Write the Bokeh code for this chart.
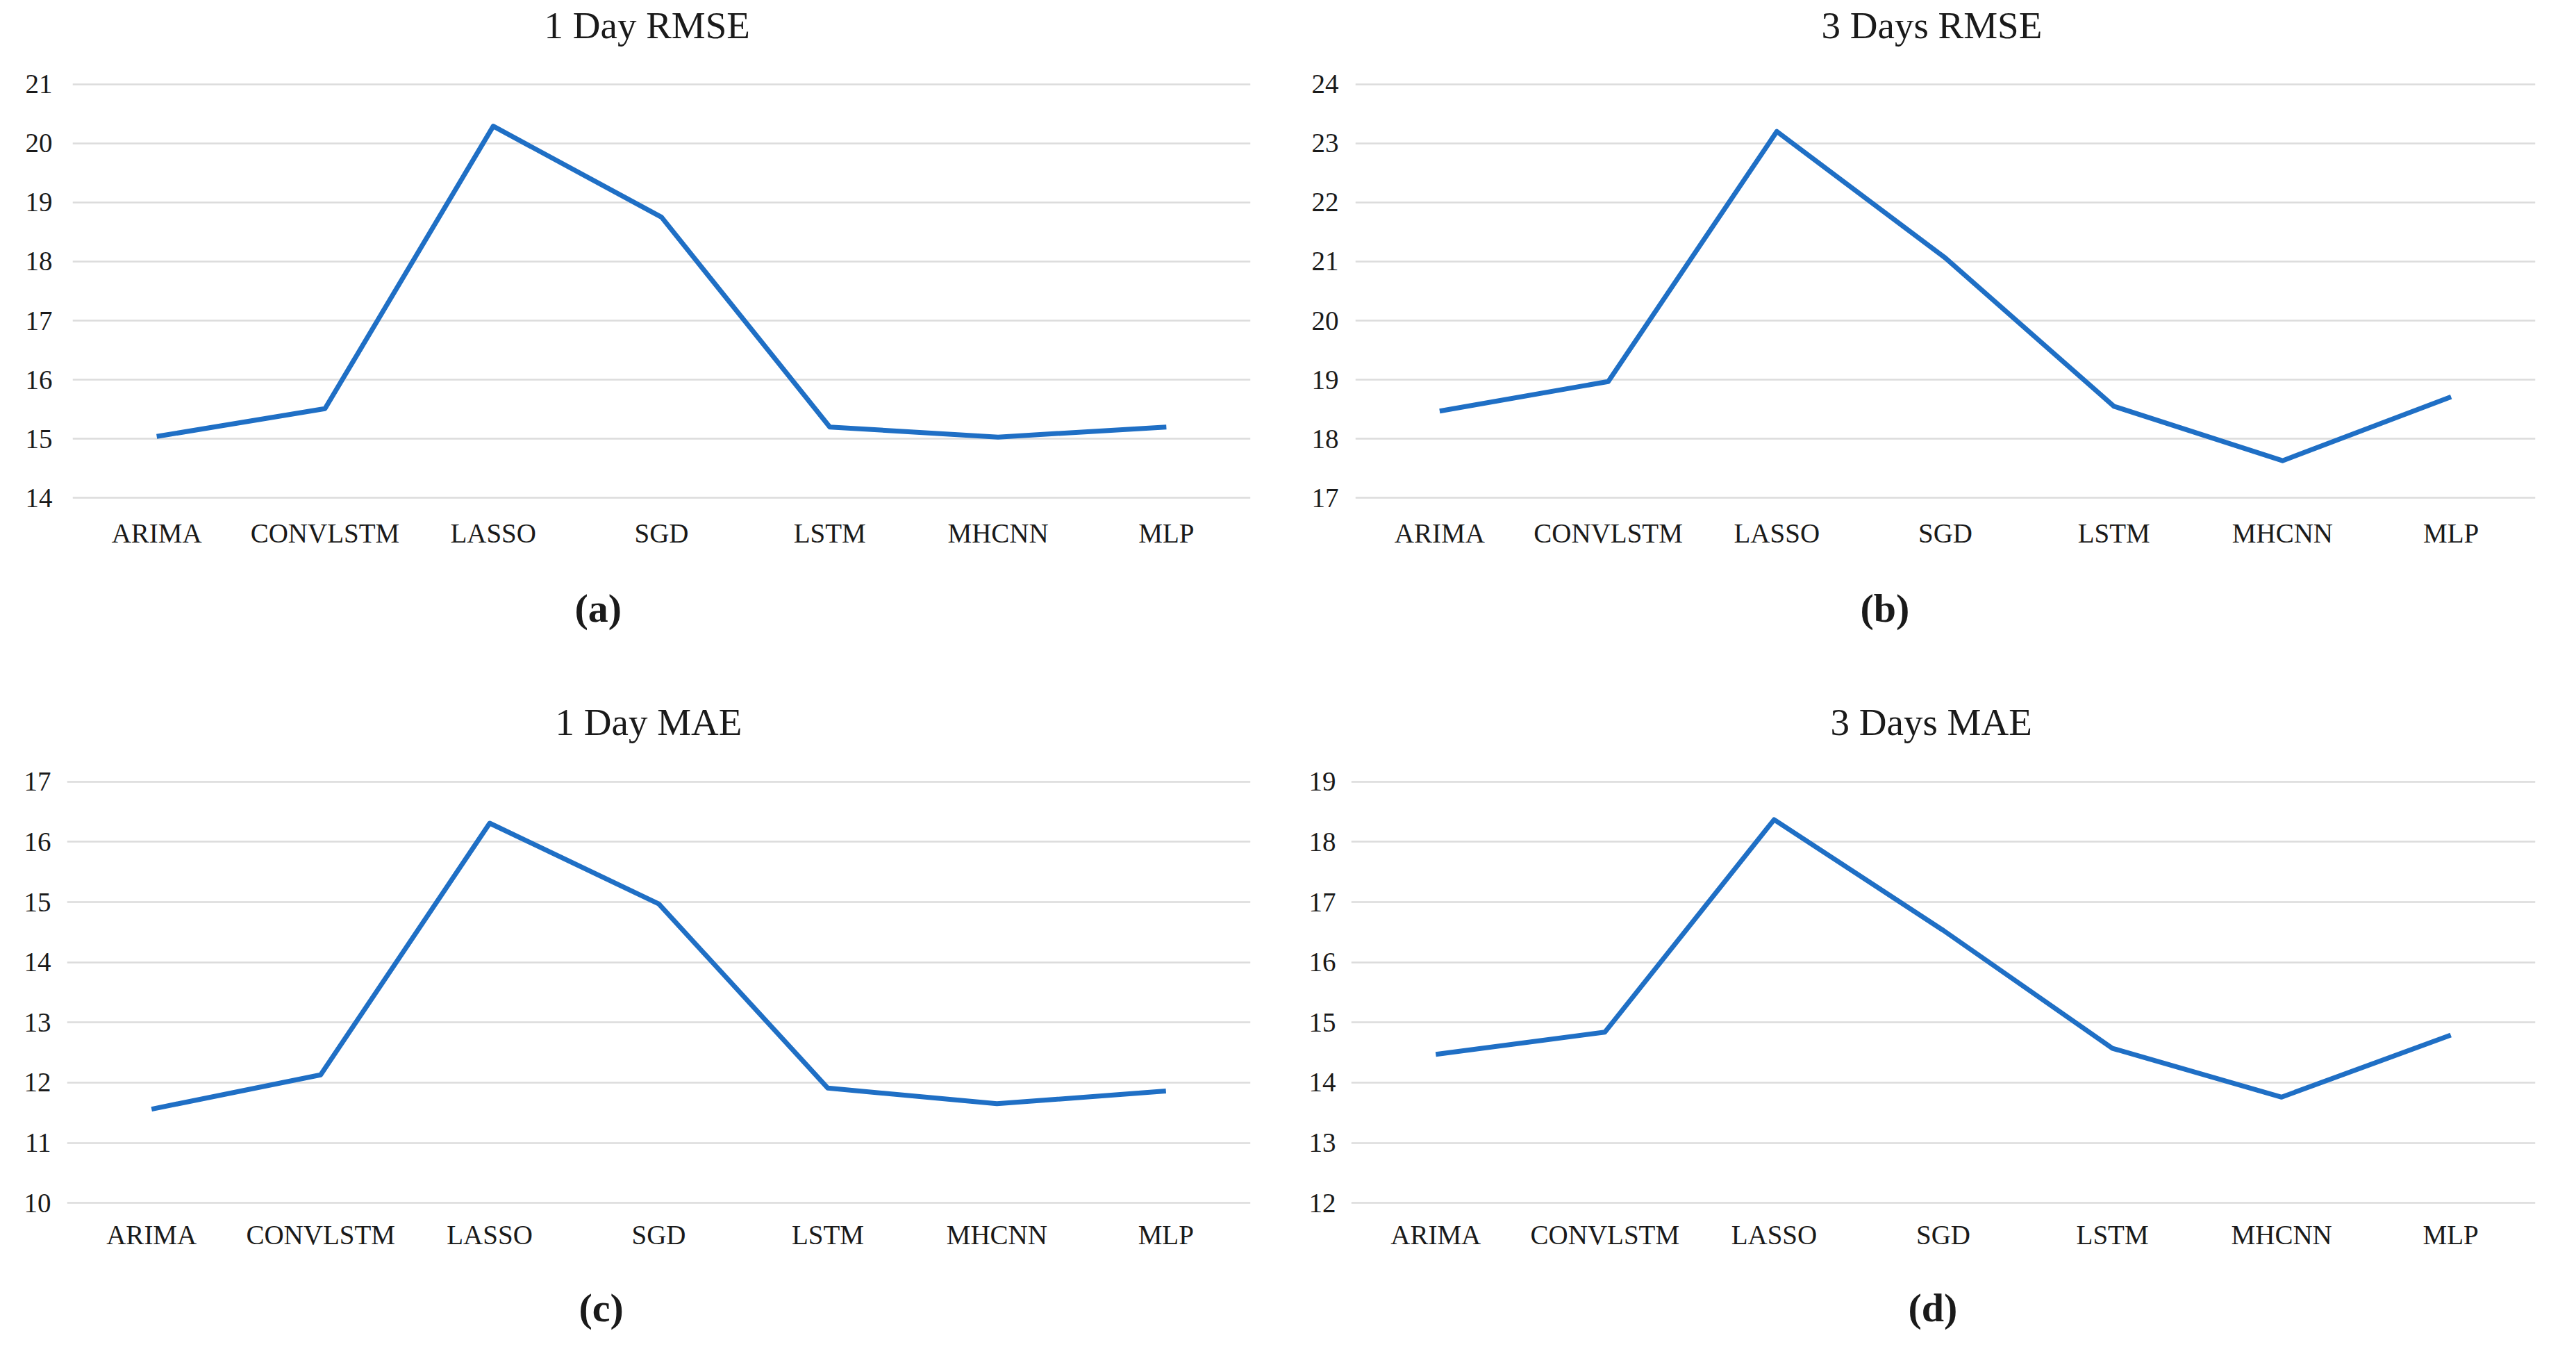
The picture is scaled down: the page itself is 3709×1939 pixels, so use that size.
from bokeh.plotting import figure
from bokeh.models import Title, FixedTicker, Range1d
from bokeh.layouts import column, row
from bokeh.embed import file_html
from bokeh.resources import INLINE

models = ["ARIMA", "CONVLSTM", "LASSO", "SGD", "LSTM", "MHCNN", "MLP"]
rmse_1day = [15.04, 15.51, 20.29, 18.75, 15.20, 15.03, 15.20]
rmse_3day = [18.47, 18.97, 23.20, 21.06, 18.55, 17.63, 18.71]
mae_1day = [11.56, 12.13, 16.31, 14.97, 11.91, 11.65, 11.86]
mae_3day = [14.47, 14.84, 18.37, 16.53, 14.57, 13.76, 14.79]

titles = ["1 Day RMSE", "3 Days RMSE", "1 Day MAE", "3 Days MAE"]
panel_tags = ["(a)", "(b)", "(c)", "(d)"]
y_limits = [(14, 21), (17, 24), (10, 17), (12, 19)]

FONT = "Liberation Serif"
LINE_COLOR = "#1F6FC5"
GRID_COLOR = "#DCDCDC"
TEXT_COLOR = "#1a1a1a"

# per panel: (width, height, border_left, border_right, border_top, border_bottom,
#  ylabel_standoff, xlabel_standoff, title_offset, tag_offset, top_gap, bottom_gap)
layouts = [
    (1846, 962, 104, 46, 119, 244, 29, 27, 679, 723, 50, 46),
    (1846, 962, 105, 42, 119, 244, 24, 27, 671, 727, 50, 46),
    (1846, 961, 96, 46, 161, 190, 23, 22, 703, 737, 51, 43),
    (1846, 961, 99, 42, 161, 190, 22, 22, 690, 802, 51, 43),
]


def spacer(size):
    return Title(text=".", text_font_size="2px", standoff=size, text_color="#ffffff")


series = [rmse_1day, rmse_3day, mae_1day, mae_3day]
figs = []
for vals, ttl, tag, (lo, hi), lay in zip(series, titles, panel_tags, y_limits, layouts):
    (w, h, bl, br, bt, bb, ysd, xsd, toff, tagoff, tgap, bgap) = lay
    p = figure(x_range=models, y_range=Range1d(lo - 0.02, hi + 0.02),
               width=w, height=h, output_backend="svg", toolbar_location=None,
               min_border_left=bl, min_border_right=br,
               min_border_top=bt, min_border_bottom=bb)
    p.add_layout(spacer(tgap), "above")
    p.add_layout(Title(text=ttl, align="left", offset=toff, standoff=0,
                       text_font=FONT, text_font_size="55px", text_font_style="normal",
                       text_color=TEXT_COLOR), "above")
    p.add_layout(spacer(bgap), "below")
    p.add_layout(Title(text=tag, align="left", offset=tagoff, standoff=0,
                       text_font=FONT, text_font_size="58px", text_font_style="bold",
                       text_color=TEXT_COLOR), "below")
    p.line(models, vals, line_color=LINE_COLOR, line_width=7, line_join="round")

    p.outline_line_color = None
    p.xgrid.grid_line_color = None
    p.ygrid.grid_line_color = GRID_COLOR
    p.ygrid.grid_line_width = 2.5
    p.yaxis.ticker = FixedTicker(ticks=list(range(lo, hi + 1)))
    for ax in (p.xaxis, p.yaxis):
        ax.axis_line_color = None
        ax.major_tick_line_color = None
        ax.minor_tick_line_color = None
        ax.major_tick_out = 0
        ax.major_tick_in = 0
        ax.major_label_text_font = FONT
        ax.major_label_text_font_size = "39px"
        ax.major_label_text_color = TEXT_COLOR
    p.yaxis.major_label_standoff = ysd
    p.xaxis.major_label_standoff = xsd
    figs.append(p)

layout = column(row(figs[0], figs[1]), row(figs[2], figs[3]))
open("out.html", "w").write(file_html(layout, INLINE))
